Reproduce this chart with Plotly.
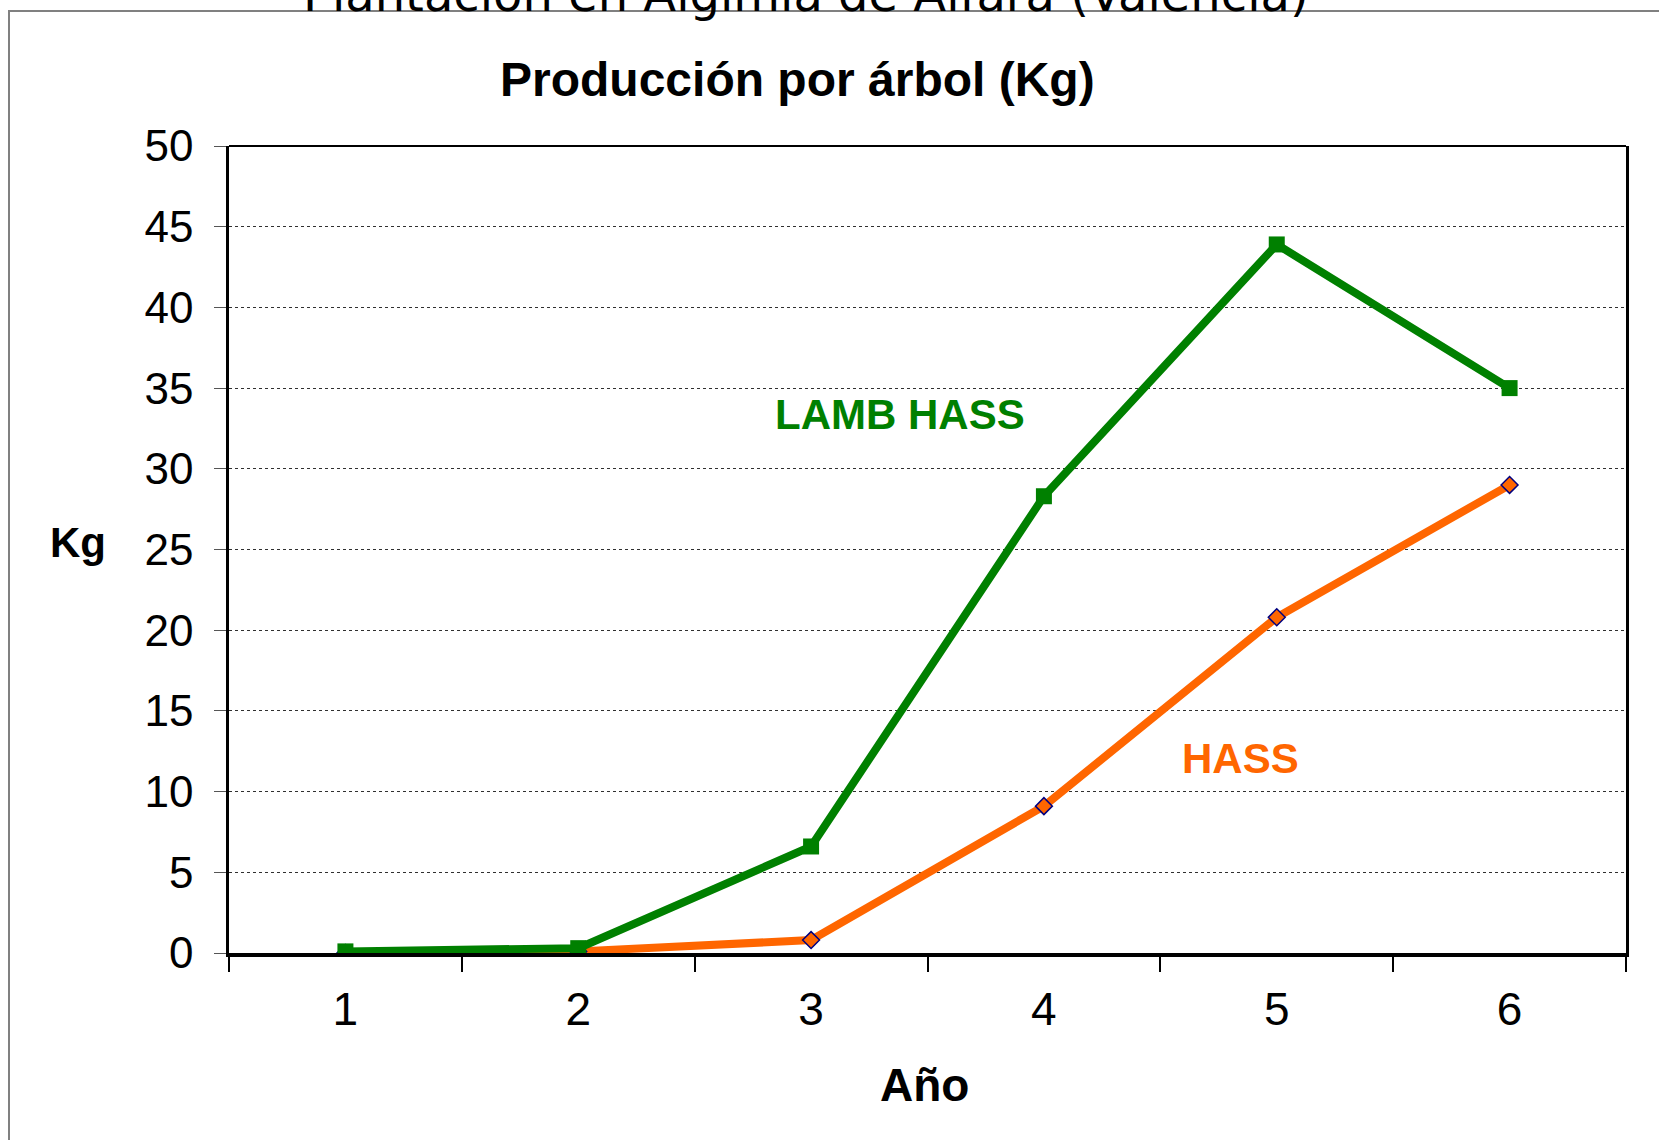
import plotly.graph_objects as go

years = ["1", "2", "3", "4", "5", "6"]
lamb_hass = [0.1, 0.3, 6.6, 28.3, 43.9, 35.0]
hass = [0.0, 0.1, 0.8, 9.1, 20.8, 29.0]
y_ticks = [0, 5, 10, 15, 20, 25, 30, 35, 40, 45, 50]

W, H = 1659, 1140
L, R, T, B = 229, 33, 146, 187
PW, PH = W - L - R, H - T - B


def px(xp):
    return (xp - L) / PW


def py(yp):
    return (H - B - yp) / PH


ARIAL = "Liberation Sans, Arial, sans-serif"

fig = go.Figure()
fig.add_trace(go.Scatter(
    x=years, y=hass, mode="lines+markers", name="HASS",
    line=dict(color="#FF6600", width=8),
    marker=dict(symbol="diamond", size=13, color="#FF6600",
                line=dict(color="#000080", width=1.5)),
))
fig.add_trace(go.Scatter(
    x=years, y=lamb_hass, mode="lines+markers", name="LAMB HASS",
    line=dict(color="#008000", width=8),
    marker=dict(symbol="square", size=16, color="#008000"),
))

fig.update_layout(
    width=W, height=H,
    margin=dict(l=L, r=R, t=T, b=B, pad=0),
    paper_bgcolor="white", plot_bgcolor="white",
    showlegend=False,
    font=dict(family=ARIAL, color="black"),
    xaxis=dict(
        type="category", range=[-0.5, 5.5], tickson="boundaries",
        ticks="outside", ticklen=15, tickwidth=1.5, tickcolor="black",
        showline=True, linecolor="black", linewidth=3.5, mirror=False,
        showgrid=False, zeroline=False,
        tickfont=dict(family=ARIAL, size=46, color="black"),
        ticklabelstandoff=13,
    ),
    yaxis=dict(
        range=[0, 50], tickmode="array", tickvals=y_ticks,
        ticktext=[str(v) for v in y_ticks],
        ticks="outside", ticklen=12, tickwidth=1, tickcolor="#555555",
        showline=True, linecolor="black", linewidth=2.5, mirror=True,
        showgrid=True, gridcolor="#303030", gridwidth=1, griddash="dot",
        zeroline=False,
        tickfont=dict(family=ARIAL, size=44, color="black"),
        ticklabelstandoff=12,
    ),
)

# top border of plot area
fig.add_shape(type="line", xref="paper", yref="paper", x0=0, x1=1, y0=1, y1=1,
              line=dict(color="black", width=2))
# outer chart frame (extends past the page)
fig.add_shape(type="rect", xref="paper", yref="paper",
              x0=px(9), x1=px(W + 50), y0=py(H + 50), y1=py(11),
              line=dict(color="#808080", width=2), layer="below")

ann = [
    dict(text="Plantación en Algimia de Alfara (Valencia)", x=px(806), y=py(-6),
         font=dict(family="DejaVu Sans, sans-serif", size=48, color="black")),
    dict(text="<b>Producción por árbol (Kg)</b>", x=px(797), y=py(80),
         font=dict(family=ARIAL, size=48, color="black")),
    dict(text="<b>Kg</b>", x=px(78), y=py(542),
         font=dict(family=ARIAL, size=42, color="black")),
    dict(text="<b>Año</b>", x=px(924), y=py(1085),
         font=dict(family=ARIAL, size=46, color="black")),
    dict(text="<b>LAMB HASS</b>", x=px(900), y=py(414),
         font=dict(family=ARIAL, size=42, color="#008000")),
    dict(text="<b>HASS</b>", x=px(1240), y=py(758),
         font=dict(family=ARIAL, size=42, color="#FF6600")),
]
for a in ann:
    fig.add_annotation(xref="paper", yref="paper", showarrow=False,
                       xanchor="center", yanchor="middle", **a)

fig.write_html(
    "out.html",
    config={"displayModeBar": False},
    post_script="document.body.style.margin='0';document.body.style.overflow='hidden';",
)
